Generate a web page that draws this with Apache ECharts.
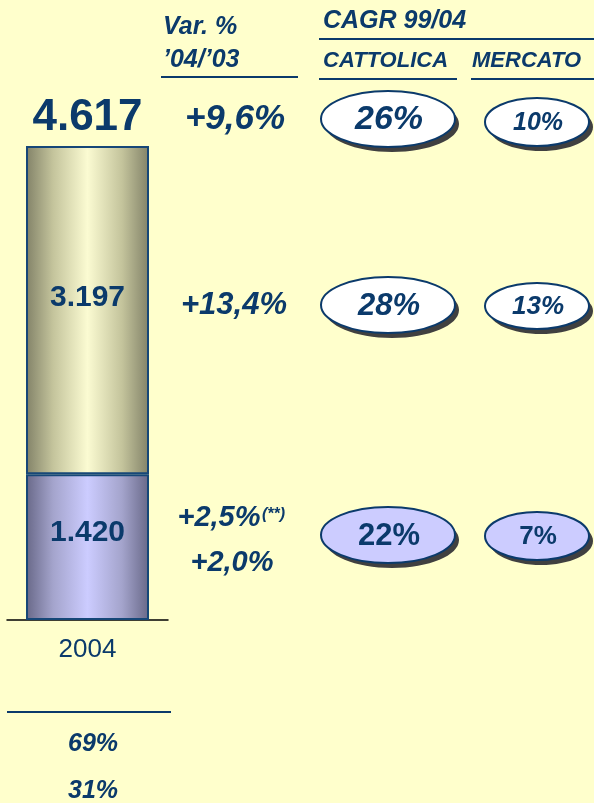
<!DOCTYPE html>
<html lang="it">
<head>
<meta charset="UTF-8">
<title>Raccolta 2004</title>
<script src="https://cdn.jsdelivr.net/npm/echarts@6/dist/echarts.min.js"></script>
<style>
  html, body { margin: 0; padding: 0; background: #ffffcc; }
  #container { width: 594px; height: 803px; }
</style>
</head>
<body>
<div id="container"></div>
<script>
// dati
var years = ['2004'];
var lowerValues = [1420];
var upperValues = [3197];
var totals = [4617];
var varPct = ['+9,6%', '+13,4%', '+2,5%', '+2,0%'];
var cagrCattolica = ['26%', '28%', '22%'];
var cagrMercato = ['10%', '13%', '7%'];
var shares = ['69%', '31%'];

var blue = '#0b3a6b';
var font = '"Liberation Sans", Arial, sans-serif';

function fmt(v) {
    return String(v).replace(/\B(?=(\d{3})+(?!\d))/g, '.');
}

function txt(x, y, s, size, opts) {
    opts = opts || {};
    return {
        type: 'text', x: x, y: y, z: 10,
        style: {
            text: s, fill: blue, font: (opts.italic === false ? '' : 'italic ') + (opts.weight || 'bold') + ' ' + size + 'px ' + font,
            textAlign: opts.align || 'center', textVerticalAlign: 'middle'
        }
    };
}

function hline(x1, x2, y, color, w) {
    return { type: 'line', shape: { x1: x1, y1: y, x2: x2, y2: y }, style: { stroke: color || blue, lineWidth: w || 2 } };
}

function bubble(cx, cy, rx, ry, fill, label, size, italic) {
    return [
        { type: 'ellipse', shape: { cx: cx + 4, cy: cy + 5, rx: rx, ry: ry }, style: { fill: '#404040' } },
        { type: 'ellipse', shape: { cx: cx, cy: cy, rx: rx, ry: ry }, style: { fill: fill, stroke: blue, lineWidth: 2 } },
        txt(cx + 1, cy + 1, label, size, { italic: italic })
    ];
}

var graphics = [
    txt(163, 27, 'Var. %', 25, { align: 'left' }),
    txt(163, 60, '\u201904/\u201903', 25, { align: 'left' }),
    hline(161, 298, 77),
    txt(323, 21, 'CAGR 99/04', 25, { align: 'left' }),
    hline(319, 594, 39),
    txt(323, 61, 'CATTOLICA', 22, { align: 'left' }),
    txt(472, 61, 'MERCATO', 22, { align: 'left' }),
    hline(319, 457, 79),
    hline(471, 594, 79),
    txt(235, 119, varPct[0], 35),
    txt(234, 305, varPct[1], 31),
    txt(219, 518, varPct[2], 29),
    txt(262, 515, '(**)', 16, { align: 'left' }),
    txt(232, 563, varPct[3], 29),
    hline(7, 171, 712),
    txt(93, 744, shares[0], 25),
    txt(93, 791, shares[1], 25)
];
graphics = graphics
    .concat(bubble(388, 119, 67, 28, '#ffffff', cagrCattolica[0], 34, true))
    .concat(bubble(537, 122, 52, 24, '#ffffff', cagrMercato[0], 25, true))
    .concat(bubble(388, 305, 67, 28, '#ffffff', cagrCattolica[1], 31, true))
    .concat(bubble(537, 306, 52, 23, '#ffffff', cagrMercato[1], 26, true))
    .concat(bubble(388, 535, 67, 28, '#ccccff', cagrCattolica[2], 31, false))
    .concat(bubble(537, 536, 52, 24, '#ccccff', cagrMercato[2], 26, false));

function grad(edge, mid, center) {
    return {
        type: 'linear', x: 0, y: 0, x2: 1, y2: 0,
        colorStops: [
            { offset: 0, color: edge }, { offset: 0.22, color: mid },
            { offset: 0.5, color: center }, { offset: 0.78, color: mid },
            { offset: 1, color: edge }
        ]
    };
}

var chart = echarts.init(document.getElementById('container'));
var option = {
    backgroundColor: '#ffffcc',
    animation: false,
    grid: { left: 7, width: 161, top: 146, bottom: 183 },
    xAxis: {
        type: 'category', data: years,
        axisLine: { lineStyle: { color: '#000000', width: 1.5 } },
        axisTick: { show: false },
        axisLabel: { color: blue, fontSize: 26, fontFamily: font, margin: 17 }
    },
    yAxis: { type: 'value', min: 0, max: totals[0], show: false, splitLine: { show: false } },
    series: [
        {
            type: 'bar', stack: 'tot', barWidth: 123, data: lowerValues,
            itemStyle: { color: grad('#686888', '#a4a4cc', '#ccccff'), borderColor: '#164778', borderWidth: 2 },
            label: {
                show: true, position: 'inside', offset: [0, -14], color: blue, fontSize: 30, fontWeight: 'bold', fontFamily: font,
                formatter: function (p) { return fmt(p.value); }
            }
        },
        {
            type: 'bar', stack: 'tot', barWidth: 123, data: upperValues,
            itemStyle: { color: grad('#828268', '#c4c49c', '#fbfbd2'), borderColor: '#164778', borderWidth: 2 },
            label: {
                show: true, position: 'inside', offset: [0, -12], color: blue, fontSize: 30, fontWeight: 'bold', fontFamily: font,
                formatter: function (p) { return fmt(p.value); }
            }
        },
        {
            type: 'scatter', symbolSize: 0, data: totals, z: 5,
            itemStyle: { opacity: 1 },
            label: {
                show: true, position: 'top', distance: 6, color: blue, opacity: 1, fontSize: 44, fontWeight: 'bold', fontFamily: font,
                formatter: function (p) { return fmt(p.value); }
            }
        }
    ],
    graphic: graphics
};
chart.setOption(option);
</script>
</body>
</html>
